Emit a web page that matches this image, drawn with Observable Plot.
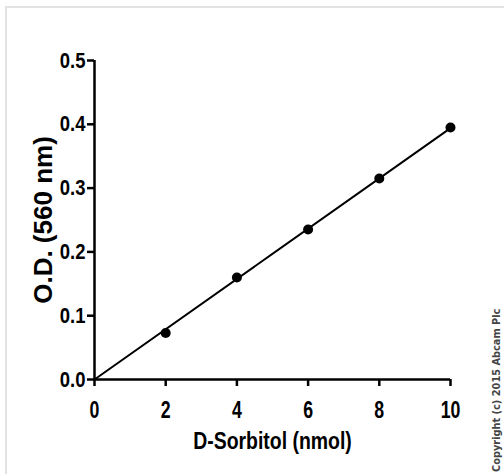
<!DOCTYPE html>
<html><head><meta charset="utf-8">
<script src="https://cdn.jsdelivr.net/npm/d3@7"></script>
<script src="https://cdn.jsdelivr.net/npm/@observablehq/plot@0.6"></script>
<style>
html,body{margin:0;padding:0;background:#fff;overflow:hidden;width:504px;height:474px;}
#frame{position:absolute;left:5px;top:6px;width:520px;height:500px;border-left:2px solid #e2e2e2;border-top:2px solid #e2e2e2;}
#chart{position:absolute;left:0;top:0;}
</style></head><body>
<div id="frame"></div><div id="chart"></div>
<script>
const amounts = [2, 4, 6, 8, 10];
const od = [0.073, 0.160, 0.235, 0.315, 0.395];
const fitX = [0, 10];
const fitY = [0, 0.394];
const xTicks = [0, 2, 4, 6, 8, 10];
const yTicks = [0, 0.1, 0.2, 0.3, 0.4, 0.5];
const xLabel = "D-Sorbitol (nmol)";
const yLabel = "O.D. (560 nm)";
const copyright = "Copyright (c) 2015 Abcam Plc";

const points = amounts.map((x, i) => ({x, y: od[i]}));
const fit = fitX.map((x, i) => ({x, y: fitY[i]}));
const sans = "'Liberation Sans', Arial, sans-serif";

const chart = Plot.plot({
  width: 504,
  height: 474,
  marginLeft: 94,
  marginRight: 54,
  marginTop: 60,
  marginBottom: 95,
  x: {domain: [0, 10]},
  y: {domain: [0, 0.5]},
  style: {background: "transparent", color: "#000", fontFamily: sans},
  marks: [
    Plot.axisX({ticks: xTicks, tickSize: 7, tickPadding: 14, strokeWidth: 2.5, fontSize: 24, fontWeight: "bold", label: null, tickFormat: d => String(d)}),
    Plot.axisY({ticks: yTicks, tickSize: 7, tickPadding: 2, strokeWidth: 2.5, fontSize: 22, fontWeight: "bold", label: null, tickFormat: d3.format(".1f")}),
    Plot.ruleY([0], {stroke: "#000", strokeWidth: 2.5}),
    Plot.ruleX([0], {stroke: "#000", strokeWidth: 2.5}),
    Plot.line(fit, {x: "x", y: "y", stroke: "#000", strokeWidth: 2}),
    Plot.dot(points, {x: "x", y: "y", r: 5, fill: "#000", stroke: "none"}),
    Plot.text([xLabel], {text: d => d, frameAnchor: "bottom", dy: 69, fontSize: 24, fontWeight: "bold", fill: "#000"}),
    Plot.text([yLabel], {text: d => d, frameAnchor: "left", textAnchor: "middle", dx: -51, rotate: -90, fontSize: 26, fontWeight: "bold", fill: "#000"})
  ]
});
document.getElementById("chart").appendChild(chart);

// emulate the condensed (narrow) face of the original: append a horizontal squeeze
const svg = d3.select(chart);
svg.selectAll("text").each(function() {
  const t = d3.select(this);
  const p = this.parentNode;
  const lbl = (p && p.getAttribute("aria-label")) || "";
  let k = null, fs = null;
  if (/^x-axis tick label/.test(lbl)) { k = 0.74; fs = 24; }
  else if (/^y-axis tick label/.test(lbl)) { k = 0.84; fs = 22; }
  else if (this.textContent === xLabel) { k = 0.81; }
  if (k === null) return;
  if (fs) t.style("font-size", fs + "px").style("font-weight", "bold");
  const tr = t.attr("transform") || "";
  t.attr("transform", `${tr} scale(${k},1)`);
});

svg.append("text")
  .attr("transform", "translate(500,472) rotate(-90)")
  .attr("text-anchor", "start")
  .attr("font-family", "'DejaVu Sans', sans-serif")
  .attr("font-weight", "bold")
  .attr("font-size", 9.8)
  .attr("fill", "#444")
  .text(copyright);
</script>
</body></html>
